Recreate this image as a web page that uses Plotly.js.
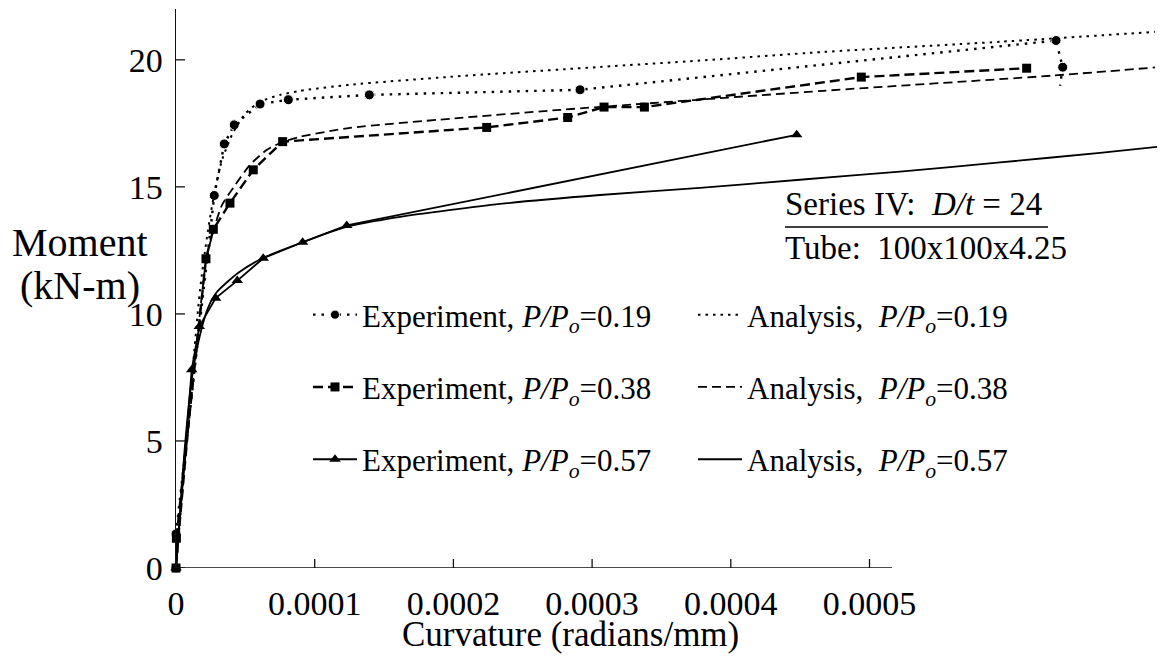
<!DOCTYPE html>
<html>
<head>
<meta charset="utf-8">
<script src="https://cdn.plot.ly/plotly-3.0.1.min.js"></script>
<style>html,body{margin:0;padding:0;background:#fff;}#chart{width:1160px;height:664px;}</style>
</head>
<body>
<div id="chart"></div>
<script>
// ---- tick labels ----
const xTickVals = [0, 0.0001, 0.0002, 0.0003, 0.0004, 0.0005];
const xTickText = ['0', '0.0001', '0.0002', '0.0003', '0.0004', '0.0005'];
const yTickVals = [0, 5, 10, 15, 20];
const yTickText = ['0', '5', '10', '15', '20'];

// ---- series (curvature in radians/mm, moment in kN-m) ----
const exp019Curv = [0, 0, 2.76e-5, 3.48e-5, 4.20e-5, 6.06e-5, 8.10e-5, 1.394e-4, 2.913e-4, 6.345e-4, 6.393e-4, 6.374e-4];
const exp019Mom  = [0, 1.34, 14.66, 16.69, 17.44, 18.26, 18.43, 18.62, 18.82, 20.76, 19.71, 18.98];

const exp038Curv = [0, 2.9e-7, 2.16e-5, 2.69e-5, 3.89e-5, 5.57e-5, 7.69e-5, 2.240e-4, 2.824e-4, 3.086e-4, 3.377e-4, 4.941e-4, 6.133e-4];
const exp038Mom  = [0, 1.17, 12.17, 13.33, 14.36, 15.67, 16.78, 17.34, 17.73, 18.14, 18.14, 19.32, 19.67];

const exp057Curv = [0, 1.13e-5, 1.68e-5, 2.86e-5, 4.42e-5, 6.29e-5, 9.13e-5, 1.231e-4, 4.475e-4];
const exp057Mom  = [0, 7.80, 9.50, 10.62, 11.31, 12.19, 12.82, 13.48, 17.05];

const ana019Curv = [0, 1.01e-5, 1.73e-5, 2.31e-5, 2.81e-5, 3.32e-5, 4.04e-5, 4.97e-5, 6.06e-5, 7.50e-5, 8.94e-5, 1.255e-4, 1.975e-4, 3.057e-4, 3.778e-4, 4.665e-4, 5.941e-4, 7.058e-4];
const ana019Mom  = [0, 6.61, 10.94, 13.31, 14.88, 16.06, 17.05, 17.87, 18.35, 18.62, 18.78, 19.02, 19.33, 19.72, 19.97, 20.31, 20.71, 21.10];

const ana038Curv = [0, 1.01e-5, 2.16e-5, 2.67e-5, 3.32e-5, 4.11e-5, 5.34e-5, 6.56e-5, 7.71e-5, 8.94e-5, 1.255e-4, 1.975e-4, 2.769e-4, 4.665e-4, 6.323e-4, 7.058e-4];
const ana038Mom  = [0, 6.14, 12.05, 13.23, 14.29, 14.95, 15.87, 16.46, 16.77, 16.97, 17.32, 17.68, 18.03, 18.78, 19.38, 19.70];

const ana057Curv = [0, 0.65e-5, 1.15e-5, 1.73e-5, 2.31e-5, 2.96e-5, 4.47e-5, 6.27e-5, 9.16e-5, 1.204e-4, 1.615e-4, 2.336e-4, 3.057e-4, 3.778e-4, 4.499e-4, 5.220e-4, 5.941e-4, 6.662e-4, 7.073e-4];
const ana057Mom  = [0, 4.84, 7.48, 9.17, 10.24, 10.87, 11.61, 12.20, 12.83, 13.39, 13.82, 14.33, 14.68, 14.96, 15.28, 15.60, 15.96, 16.34, 16.57];

const ratioLabels = ['0.19', '0.38', '0.57'];

// ---- geometry helpers (page pixels -> paper coords) ----
const M = {l: 176, r: 0, t: 9, b: 96};
const W = 1160, H = 664;
const PW = W - M.l - M.r, PH = H - M.t - M.b;
const px = v => (v - M.l) / PW;
const py = v => (H - M.b - v) / PH;

const FONT = '"Liberation Serif", "Times New Roman", Times, serif';
const BLACK = '#000';

function ratioText(r) { return '<i>P/P<sub>o</sub></i>=' + r; }

// Experiment 0.19: last point is the unloading end (no marker)
const exp019Sizes = exp019Curv.map((_, i) => i === exp019Curv.length - 1 ? 0 : 10);

const traces = [
  {
    x: exp019Curv, y: exp019Mom, type: 'scatter', mode: 'lines+markers',
    name: 'Experiment, ' + ratioText(ratioLabels[0]),
    line: {color: BLACK, width: 2.4, dash: '2.5px,6px'},
    marker: {symbol: 'circle', size: exp019Sizes, color: BLACK, opacity: 1},
    cliponaxis: false, legend: 'legend', legendgroup: 'e1'
  },
  {
    x: exp038Curv, y: exp038Mom, type: 'scatter', mode: 'lines+markers',
    name: 'Experiment, ' + ratioText(ratioLabels[1]),
    line: {color: BLACK, width: 2.4, dash: '10px,5px'},
    marker: {symbol: 'square', size: 9, color: BLACK},
    cliponaxis: false, legend: 'legend', legendgroup: 'e2'
  },
  {
    x: exp057Curv, y: exp057Mom, type: 'scatter', mode: 'lines+markers',
    name: 'Experiment, ' + ratioText(ratioLabels[2]),
    line: {color: BLACK, width: 1.8},
    marker: {symbol: 'triangle-up', size: 10, color: BLACK},
    cliponaxis: false, legend: 'legend', legendgroup: 'e3'
  },
  {
    x: ana019Curv, y: ana019Mom, type: 'scatter', mode: 'lines',
    name: 'Analysis,&nbsp;&nbsp;' + ratioText(ratioLabels[0]),
    line: {color: BLACK, width: 2.0, dash: '2.5px,5px', shape: 'spline', smoothing: 0.6},
    legend: 'legend2', legendgroup: 'a1'
  },
  {
    x: ana038Curv, y: ana038Mom, type: 'scatter', mode: 'lines',
    name: 'Analysis,&nbsp;&nbsp;' + ratioText(ratioLabels[1]),
    line: {color: BLACK, width: 1.8, dash: '9px,5px', shape: 'spline', smoothing: 0.6},
    legend: 'legend2', legendgroup: 'a2'
  },
  {
    x: ana057Curv, y: ana057Mom, type: 'scatter', mode: 'lines',
    name: 'Analysis,&nbsp;&nbsp;' + ratioText(ratioLabels[2]),
    line: {color: BLACK, width: 1.8, shape: 'spline', smoothing: 0.6},
    legend: 'legend2', legendgroup: 'a3'
  }
];

const X_RANGE = [0, (W - M.l) / 1387000];   // plot area reaches the right page edge
const X_AXIS_END = (892 - M.l) / 1387000;   // drawn axis line stops after 0.0005
const Y_RANGE = [0, 22];

const shapes = [];
// x axis line
shapes.push({type: 'line', xref: 'x', yref: 'y', x0: 0, x1: X_AXIS_END, y0: 0, y1: 0,
  line: {color: '#111', width: 1.5}});
// crossing tick marks
xTickVals.forEach(v => shapes.push({type: 'line', xref: 'x', yref: 'y', ysizemode: 'pixel', yanchor: 0,
  x0: v, x1: v, y0: -9, y1: 9, line: {color: '#111', width: 1.3}}));
yTickVals.forEach(v => shapes.push({type: 'line', xref: 'x', yref: 'y', xsizemode: 'pixel', xanchor: 0,
  y0: v, y1: v, x0: -9, x1: 9, line: {color: '#111', width: 1.3}}));
// underline of the series note
shapes.push({type: 'line', xref: 'paper', yref: 'paper', x0: px(785), x1: px(1048), y0: py(227), y1: py(227),
  line: {color: BLACK, width: 1.5}});

const annotations = [
  {text: 'Curvature (radians/mm)', xref: 'paper', yref: 'paper', x: px(570), y: py(634),
   xanchor: 'center', yanchor: 'middle', showarrow: false, font: {family: FONT, size: 35, color: BLACK}},
  {text: 'Moment', xref: 'paper', yref: 'paper', x: px(80), y: py(243),
   xanchor: 'center', yanchor: 'middle', showarrow: false, font: {family: FONT, size: 40, color: BLACK}},
  {text: '(kN-m)', xref: 'paper', yref: 'paper', x: px(80), y: py(285),
   xanchor: 'center', yanchor: 'middle', showarrow: false, font: {family: FONT, size: 40, color: BLACK}},
  {text: 'Series IV:&nbsp;&nbsp;<i>D/t</i> = 24', xref: 'paper', yref: 'paper', x: px(783), y: py(204),
   xanchor: 'left', yanchor: 'middle', showarrow: false, font: {family: FONT, size: 33, color: BLACK}},
  {text: 'Tube:&nbsp;&nbsp;100x100x4.25', xref: 'paper', yref: 'paper', x: px(783), y: py(248),
   xanchor: 'left', yanchor: 'middle', showarrow: false, font: {family: FONT, size: 33, color: BLACK}}
];

const legendBase = {
  xanchor: 'left', yanchor: 'top', bgcolor: 'rgba(0,0,0,0)', borderwidth: 0,
  font: {family: FONT, size: 31, color: BLACK}, itemwidth: 44,
  traceorder: 'grouped', tracegroupgap: 29, itemclick: false, itemdoubleclick: false
};

const layout = {
  width: W, height: H,
  margin: {l: M.l, r: M.r, t: M.t, b: M.b, pad: 0},
  paper_bgcolor: '#fff', plot_bgcolor: '#fff',
  font: {family: FONT, color: BLACK, size: 31},
  showlegend: true,
  legend: Object.assign({}, legendBase, {x: px(308), y: py(288)}),
  legend2: Object.assign({}, legendBase, {x: px(693), y: py(288)}),
  xaxis: {
    range: X_RANGE, showgrid: false, zeroline: false, showline: false, ticks: '',
    tickmode: 'array', tickvals: xTickVals, ticktext: xTickText,
    tickfont: {family: FONT, size: 34, color: BLACK}, ticklabelstandoff: 12, fixedrange: true
  },
  yaxis: {
    range: Y_RANGE, showgrid: false, zeroline: false, showline: true, linecolor: '#111', linewidth: 1.5,
    ticks: '', tickmode: 'array', tickvals: yTickVals, ticktext: yTickText,
    tickfont: {family: FONT, size: 34, color: BLACK}, ticklabelstandoff: 5, fixedrange: true
  },
  shapes: shapes,
  annotations: annotations
};

Plotly.newPlot('chart', traces, layout, {displayModeBar: false, staticPlot: true});
</script>
</body>
</html>
